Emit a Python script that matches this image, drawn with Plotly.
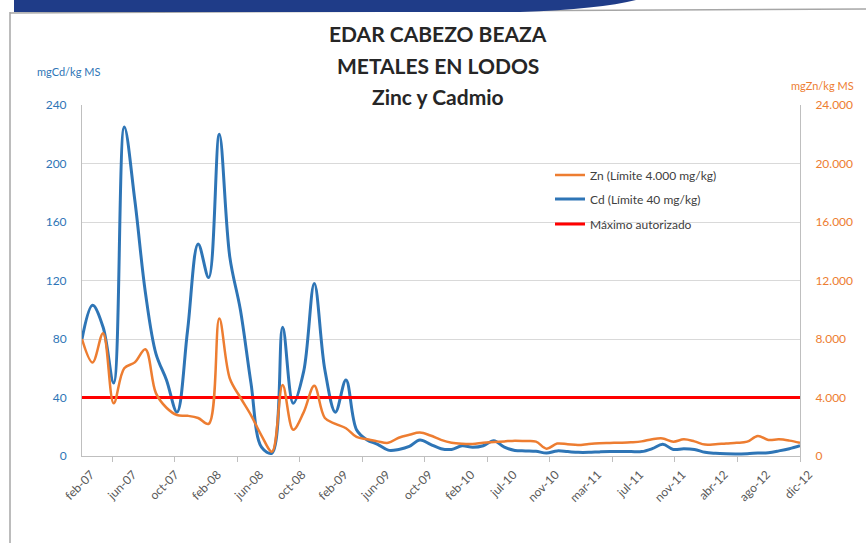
import plotly.graph_objects as go

# monthly samples (a couple of months missing in the source series)
meses = [
    "feb-07", "mar-07", "abr-07", "may-07", "jun-07", "jul-07", "ago-07", "sep-07", "oct-07", "nov-07", "dic-07",
    "ene-08", "feb-08", "mar-08", "abr-08", "may-08", "jun-08", "jul-08", "ago-08", "sep-08", "oct-08", "nov-08", "dic-08",
    "ene-09", "feb-09", "mar-09", "abr-09", "may-09", "jun-09", "jul-09", "ago-09", "sep-09", "oct-09", "nov-09", "dic-09",
    "ene-10", "feb-10", "mar-10", "may-10", "jun-10", "jul-10", "ago-10", "sep-10", "oct-10", "nov-10", "dic-10",
    "ene-11", "feb-11", "mar-11", "abr-11", "may-11", "jun-11", "jul-11", "ago-11", "sep-11", "oct-11", "nov-11", "dic-11",
    "feb-12", "mar-12", "abr-12", "may-12", "jun-12", "jul-12", "ago-12", "sep-12", "oct-12", "nov-12", "dic-12",
]

cd = [
    80, 103, 88, 50, 225, 175, 112, 70, 52, 30,
    86, 145, 122, 220, 136, 100, 50, 6, 2, 88,
    36, 58, 118, 59, 30, 52, 18, 11, 8, 4,
    4.5, 6.5, 11, 8, 5, 4.5, 7, 6, 7, 10.5,
    6, 3.8, 3.5, 3.2, 2, 3.5, 3, 2.5, 2.5, 2.8,
    3, 3, 3, 3, 5, 8, 4.5, 5, 4.5, 2.5,
    1.8, 1.5, 1.4, 1.6, 2, 2.3, 3.5, 5, 7,
]

zn = [
    8000, 6400, 8400, 3600, 6000, 6400, 7300, 4300, 3300, 2800,
    2750, 2600, 2200, 9400, 5300, 4000, 2800, 1400, 300, 4850,
    1800, 3000, 4800, 2600, 2200, 1900, 1300, 1150, 1000, 900,
    1250, 1450, 1600, 1400, 1100, 900, 830, 820, 900, 950,
    1000, 1050, 1020, 980, 500, 850, 800, 750, 820, 870,
    890, 910, 940, 1000, 1150, 1200, 980, 1140, 1000, 780,
    800, 860, 900, 980, 1370, 1100, 1140, 1050, 900,
]

limite_cd = 40
x = list(range(len(meses)))
etiquetas = meses[::4]

W, H = 866, 543
L, R, T, B = 82, 800, 105, 456  # plot area in pixels

def fx(p):
    return (p - L) / (R - L)

def fy(p):
    return (B - p) / (B - T)

BLUE = '#2e75b6'
ORANGE = '#ed7d31'
FONT = 'Lato'

fig = go.Figure()

fig.add_trace(go.Scatter(
    x=x, y=zn, name='Zn (Límite 4.000 mg/kg)', yaxis='y2', legend='legend',
    mode='lines', line=dict(color=ORANGE, width=2.5, shape='spline', smoothing=1),
))
fig.add_trace(go.Scatter(
    x=x, y=cd, name='Cd (Límite 40 mg/kg)', legend='legend2',
    mode='lines', line=dict(color=BLUE, width=3, shape='spline', smoothing=1),
))
fig.add_trace(go.Scatter(
    x=x, y=[limite_cd] * len(x), name='Máximo autorizado', legend='legend3',
    mode='lines', line=dict(color='#ff0000', width=3),
))

leg = dict(xanchor='left', yanchor='middle', bgcolor='rgba(255,255,255,0)',
           font=dict(size=12, color='#404040'))

fig.update_layout(
    width=W, height=H,
    margin=dict(l=L, r=W - R, t=T, b=H - B),
    paper_bgcolor='white', plot_bgcolor='white',
    font=dict(family=FONT, size=12, color='#404040'),
    separators=',.',
    showlegend=True,
    legend=dict(x=fx(550), y=fy(175), **leg),
    legend2=dict(x=fx(550), y=fy(199), **leg),
    legend3=dict(x=fx(550), y=fy(224), **leg),
    xaxis=dict(
        range=[0, len(x) - 1], tickmode='array', tickvals=x[::4], ticktext=etiquetas,
        tickangle=-45, ticks='', showgrid=False, zeroline=False,
        showline=True, linecolor='#bfbfbf', linewidth=1,
        tickfont=dict(size=12, color='#595959'),
        ticklabelshift=9, ticklabelstandoff=6,
        minor=dict(ticks='outside', tickmode='linear', tick0=2.88, dtick=5.92,
                   ticklen=5, tickcolor='#bfbfbf', showgrid=False),
    ),
    yaxis=dict(
        range=[0, 240], dtick=40, showgrid=True, gridcolor='#d9d9d9', gridwidth=1,
        zeroline=False, showline=True, linecolor='#bfbfbf',
        tickfont=dict(size=12, color=BLUE), ticklabelstandoff=12,
    ),
    yaxis2=dict(
        range=[0, 24000], dtick=4000, overlaying='y', side='right', tickformat=',d',
        showgrid=False, zeroline=False, showline=True, linecolor='#bfbfbf',
        tickfont=dict(size=12, color=ORANGE), ticklabelstandoff=12,
    ),
)

# titles
for texto, py in [('EDAR CABEZO BEAZA', 33), ('METALES EN LODOS', 65), ('Zinc y Cadmio', 97)]:
    fig.add_annotation(x=fx(438), y=fy(py), xref='paper', yref='paper', text=f'<b>{texto}</b>',
                       showarrow=False, xanchor='center', yanchor='middle',
                       font=dict(family=FONT, size=21, color='#262626'))

fig.add_annotation(x=fx(35), y=fy(72), xref='paper', yref='paper', text='mgCd/kg MS',
                   showarrow=False, xanchor='left', yanchor='middle',
                   font=dict(size=11, color=BLUE))
fig.add_annotation(x=fx(856), y=fy(86), xref='paper', yref='paper', text='mgZn/kg MS',
                   showarrow=False, xanchor='right', yanchor='middle',
                   font=dict(size=11, color=ORANGE))

# frame and top banner
fig.add_shape(type='line', xref='paper', yref='paper', x0=fx(10), x1=fx(10), y0=fy(12), y1=fy(543),
              line=dict(color='#a6a6a6', width=1.5))
fig.add_shape(type='line', xref='paper', yref='paper', x0=fx(10), x1=fx(866), y0=fy(13), y1=fy(9),
              line=dict(color='#a6a6a6', width=1.5))
banner = (f'M {fx(14)},{fy(0)} L {fx(636)},{fy(0)} Q {fx(600)},{fy(9)} {fx(520)},{fy(12)} '
          f'L {fx(14)},{fy(12)} Z')
fig.add_shape(type='path', path=banner, xref='paper', yref='paper',
              fillcolor='#1f3c88', line=dict(width=0))

# drop the default page margin so the figure fills the window
fig.write_html('out.html', config={'displayModeBar': False},
               post_script="document.body.style.margin='0';")
